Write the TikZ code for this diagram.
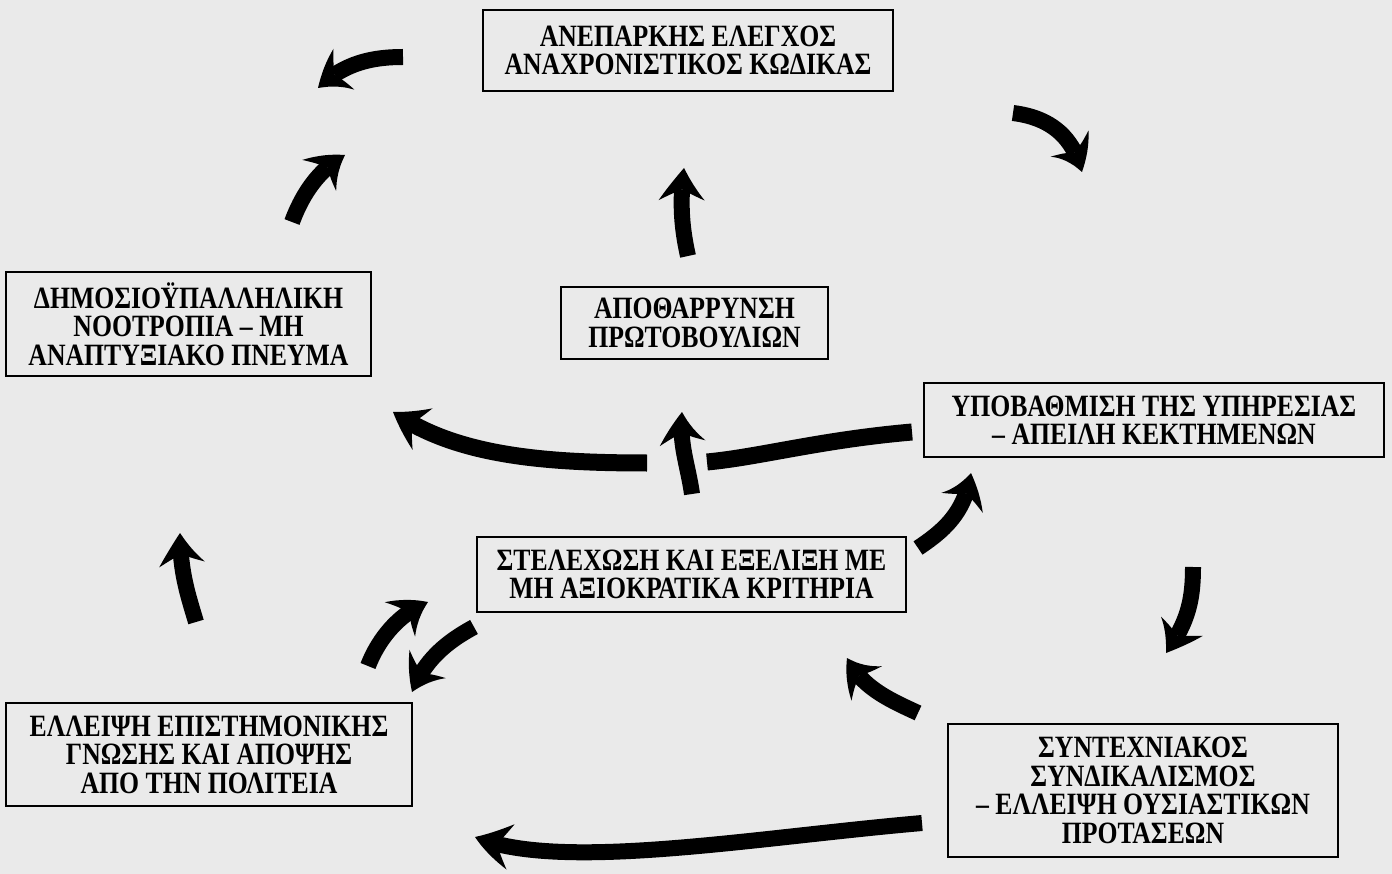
\documentclass[tikz,border=0pt]{standalone}
\usepackage{fontspec}
\setmainfont{Liberation Serif}
\newfontfamily\gfont[FakeStretch=0.83]{Liberation Serif}
\usetikzlibrary{arrows.meta,bending}
\definecolor{paper}{RGB}{234,234,234}
\tikzset{
 box/.style={draw=black, line width=1.5pt, inner sep=0pt, align=center,
   font=\gfont\bfseries\fontsize{31}{28.5}\selectfont},
 bigarrow/.style={line width=16pt, line cap=butt,
   -{Stealth[length=34pt,width=46pt,inset=12pt,line width=0pt,bend]}},
 bigbar/.style={line width=17pt, line cap=butt},
}
\begin{document}
\begin{tikzpicture}[x=1pt,y=-1pt]
\fill[paper] (0,0) rectangle (1392,874);
\useasboundingbox (0,0) rectangle (1392,874);

\node[box, minimum width=410pt, minimum height=81pt] (A) at (688,50.5)
  {ΑΝΕΠΑΡΚΗΣ ΕΛΕΓΧΟΣ\\ΑΝΑΧΡΟΝΙΣΤΙΚΟΣ ΚΩΔΙΚΑΣ};
\node[box, minimum width=365pt, minimum height=104pt] (B) at (188.5,324)
  {ΔΗΜΟΣΙΟΫΠΑΛΛΗΛΙΚΗ\\ΝΟΟΤΡΟΠΙΑ – ΜΗ\\ΑΝΑΠΤΥΞΙΑΚΟ ΠΝΕΥΜΑ};
\node[box, minimum width=267pt, minimum height=72pt] (C) at (694.5,323)
  {ΑΠΟΘΑΡΡΥΝΣΗ\\ΠΡΩΤΟΒΟΥΛΙΩΝ};
\node[box, minimum width=460pt, minimum height=74pt] (D) at (1154,420)
  {ΥΠΟΒΑΘΜΙΣΗ ΤΗΣ ΥΠΗΡΕΣΙΑΣ\\– ΑΠΕΙΛΗ ΚΕΚΤΗΜΕΝΩΝ};
\node[box, minimum width=429pt, minimum height=75pt] (E) at (691.5,574.5)
  {ΣΤΕΛΕΧΩΣΗ ΚΑΙ ΕΞΕΛΙΞΗ ΜΕ\\ΜΗ ΑΞΙΟΚΡΑΤΙΚΑ ΚΡΙΤΗΡΙΑ};
\node[box, minimum width=406pt, minimum height=103pt] (F) at (209,754.5)
  {ΕΛΛΕΙΨΗ ΕΠΙΣΤΗΜΟΝΙΚΗΣ\\ΓΝΩΣΗΣ ΚΑΙ ΑΠΟΨΗΣ\\ΑΠΟ ΤΗΝ ΠΟΛΙΤΕΙΑ};
\node[box, minimum width=390pt, minimum height=133pt] (G) at (1143,790.5)
  {ΣΥΝΤΕΧΝΙΑΚΟΣ\\ΣΥΝΔΙΚΑΛΙΣΜΟΣ\\– ΕΛΛΕΙΨΗ ΟΥΣΙΑΣΤΙΚΩΝ\\ΠΡΟΤΑΣΕΩΝ};

% arrow end points
\coordinate (a1s) at (403,57);   \coordinate (a1e) at (318,88);
\coordinate (a2s) at (292,222);  \coordinate (a2e) at (345,155);
\coordinate (a3s) at (688,256);  \coordinate (a3e) at (684,168);
\coordinate (a4s) at (1013,113); \coordinate (a4e) at (1082,172);
\coordinate (a5s) at (912,432);  \coordinate (a5g) at (707,462);
\coordinate (a5h) at (647,463);  \coordinate (a5e) at (393,412);
\coordinate (a6s) at (692,494);  \coordinate (a6e) at (682,412);
\coordinate (a7s) at (918,548);  \coordinate (a7e) at (971,473);
\coordinate (a8s) at (1193,567); \coordinate (a8e) at (1166,653);
\coordinate (a9s) at (918,713);  \coordinate (a9e) at (847,658);
\coordinate (a10s) at (922,823); \coordinate (a10e) at (475,837);
\coordinate (a11s) at (474,627); \coordinate (a11e) at (412,692);
\coordinate (a12s) at (368,666); \coordinate (a12e) at (428,602);
\coordinate (a13s) at (196,622); \coordinate (a13e) at (180,533);

\draw[bigarrow] (a1s) .. controls (370,57) and (343,64) .. (a1e);
\draw[bigarrow] (a2s) .. controls (302,195) and (318,170) .. (a2e);
\draw[bigarrow] (a3s) .. controls (681,225) and (680,200) .. (a3e);
\draw[bigarrow] (a4s) .. controls (1045,117) and (1072,132) .. (a4e);
\draw[bigbar]   (a5s) .. controls (820,440) and (760,457) .. (a5g);
\draw[bigarrow, line width=17pt] (a5h) .. controls (540,463) and (455,455) .. (a5e);
\draw[bigarrow] (a6s) .. controls (688,465) and (679,445) .. (a6e);
\draw[bigarrow] (a7s) .. controls (945,530) and (965,512) .. (a7e);
\draw[bigarrow] (a8s) .. controls (1193,600) and (1188,622) .. (a8e);
\draw[bigarrow] (a9s) .. controls (890,700) and (862,688) .. (a9e);
\draw[bigarrow] (a10s) .. controls (750,838) and (560,872) .. (a10e);
\draw[bigarrow] (a11s) .. controls (450,640) and (425,658) .. (a11e);
\draw[bigarrow] (a12s) .. controls (378,640) and (398,614) .. (a12e);
\draw[bigarrow] (a13s) .. controls (188,595) and (180,572) .. (a13e);
\end{tikzpicture}
\end{document}
